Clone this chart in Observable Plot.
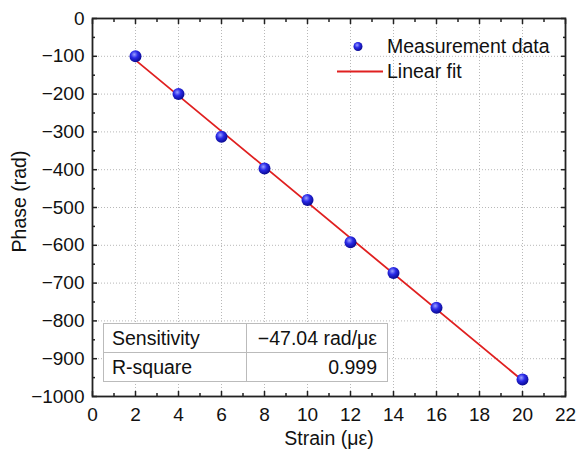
<!DOCTYPE html>
<html>
<head>
<meta charset="utf-8">
<script src="https://cdn.jsdelivr.net/npm/d3@7"></script>
<script src="https://cdn.jsdelivr.net/npm/@observablehq/plot@0.6"></script>
<style>
  body { margin: 0; background: #fff; font-family: "Liberation Sans", Arial, sans-serif; }
  #wrap { position: relative; width: 576px; height: 450px; }
  #legend { position: absolute; left: 330px; top: 34px; font-size: 19.5px; color: #111; }
  #legend .row { display: flex; align-items: center; height: 25px; }
  #legend svg { width: 57px; height: 25px; }
  #stats { position: absolute; left: 103px; top: 323px; border-collapse: collapse; font-size: 19.5px; background: #fff; border: 1.5px solid #888; color: #111; }
  #stats td { border: 1px solid #bbb; padding: 0 10px 0 8px; height: 28px; line-height: 20px; }
  #stats td.v { text-align: right; width: 122px; }
  #stats td.k { width: 124px; }
</style>
</head>
<body>
<div id="wrap"></div>
<script>
const strain = [2, 4, 6, 8, 10, 12, 14, 16, 20];
const phase = [-100, -200, -313, -397, -480, -592, -673, -765, -955];
const xTicks = [0, 2, 4, 6, 8, 10, 12, 14, 16, 18, 20, 22];
const xMinor = [1, 3, 5, 7, 9, 11, 13, 15, 17, 19, 21];
const yTicks = [0, -100, -200, -300, -400, -500, -600, -700, -800, -900, -1000];
const yMinor = [-50, -150, -250, -350, -450, -550, -650, -750, -850, -950];
const sensitivity = "−47.04 rad/με";
const rSquare = "0.999";

const data = strain.map((s, i) => ({strain: s, phase: phase[i]}));
const fmt = d3.format("d");
const axisStyle = {stroke: "#222", strokeWidth: 1.5};

const chart = Plot.plot({
  width: 576,
  height: 450,
  marginLeft: 92,
  marginRight: 11,
  marginTop: 18,
  marginBottom: 54,
  style: {fontFamily: "Liberation Sans, Arial, sans-serif", fontSize: "19px", color: "#111", background: "#fff"},
  x: {domain: [0, 22]},
  y: {domain: [-1000, 0]},
  marks: [
    Plot.gridX(xTicks, {stroke: "#b8b8b8", strokeOpacity: 1, strokeDasharray: "1,2"}),
    Plot.gridY(yTicks, {stroke: "#b8b8b8", strokeOpacity: 1, strokeDasharray: "1,2"}),
    Plot.linearRegressionY(data, {x: "strain", y: "phase", stroke: "#e02020", strokeWidth: 1.8, ci: 0}),
    Plot.dot(data, {x: "strain", y: "phase", r: 6, fill: "url(#ball)", stroke: "none"}),
    Plot.axisX(xTicks, {anchor: "bottom", tickSize: -5, tickPadding: 16, tickFormat: fmt, fontSize: 19, label: "Strain (με)", labelAnchor: "center", labelArrow: "none", labelOffset: 48, ...axisStyle}),
    Plot.axisX(xMinor, {anchor: "bottom", tickSize: -3, text: null, label: null, ...axisStyle}),
    Plot.axisX(xTicks, {anchor: "top", tickSize: -5, text: null, label: null, ...axisStyle}),
    Plot.axisX(xMinor, {anchor: "top", tickSize: -3, text: null, label: null, ...axisStyle}),
    Plot.axisY(yTicks, {anchor: "left", tickSize: -5, tickPadding: 13, tickFormat: fmt, fontSize: 19, label: "Phase (rad)", labelAnchor: "center", labelArrow: "none", labelOffset: 80, ...axisStyle}),
    Plot.axisY(yMinor, {anchor: "left", tickSize: -3, text: null, label: null, ...axisStyle}),
    Plot.axisY(yTicks, {anchor: "right", tickSize: -5, text: null, label: null, ...axisStyle}),
    Plot.axisY(yMinor, {anchor: "right", tickSize: -3, text: null, label: null, ...axisStyle}),
    Plot.frame({stroke: "#222", strokeWidth: 1.8})
  ]
});

d3.select(chart).selectAll("g[aria-label='x-axis label'] text, g[aria-label='y-axis label'] text").style("font-size", "19.5px");
const yl = d3.select(chart).select("g[aria-label='y-axis label']");
if (!yl.empty()) yl.attr("transform", "translate(0,-6) " + (yl.attr("transform") || ""));

const defs = d3.select(chart).insert("defs", ":first-child");
const g = defs.append("radialGradient").attr("id", "ball").attr("cx", "40%").attr("cy", "35%").attr("r", "65%");
g.append("stop").attr("offset", "0%").attr("stop-color", "#9aa0ff");
g.append("stop").attr("offset", "45%").attr("stop-color", "#2a2ae8");
g.append("stop").attr("offset", "100%").attr("stop-color", "#0a0a90");

const wrap = document.getElementById("wrap");
wrap.appendChild(chart);

const legend = document.createElement("div");
legend.id = "legend";
legend.innerHTML = `
  <div class="row"><svg><defs><radialGradient id="ball2" cx="40%" cy="35%" r="65%"><stop offset="0%" stop-color="#9aa0ff"/><stop offset="45%" stop-color="#2a2ae8"/><stop offset="100%" stop-color="#0a0a90"/></radialGradient></defs><circle cx="28" cy="12.5" r="4.5" fill="url(#ball2)"/></svg><span>Measurement data</span></div>
  <div class="row"><svg><line x1="7" x2="53" y1="12.5" y2="12.5" stroke="#e02020" stroke-width="1.8"/></svg><span>Linear fit</span></div>`;
wrap.appendChild(legend);

const table = document.createElement("table");
table.id = "stats";
table.innerHTML = `<tr><td class="k">Sensitivity</td><td class="v">${sensitivity}</td></tr>
<tr><td class="k">R-square</td><td class="v">${rSquare}</td></tr>`;
wrap.appendChild(table);
</script>
</body>
</html>
